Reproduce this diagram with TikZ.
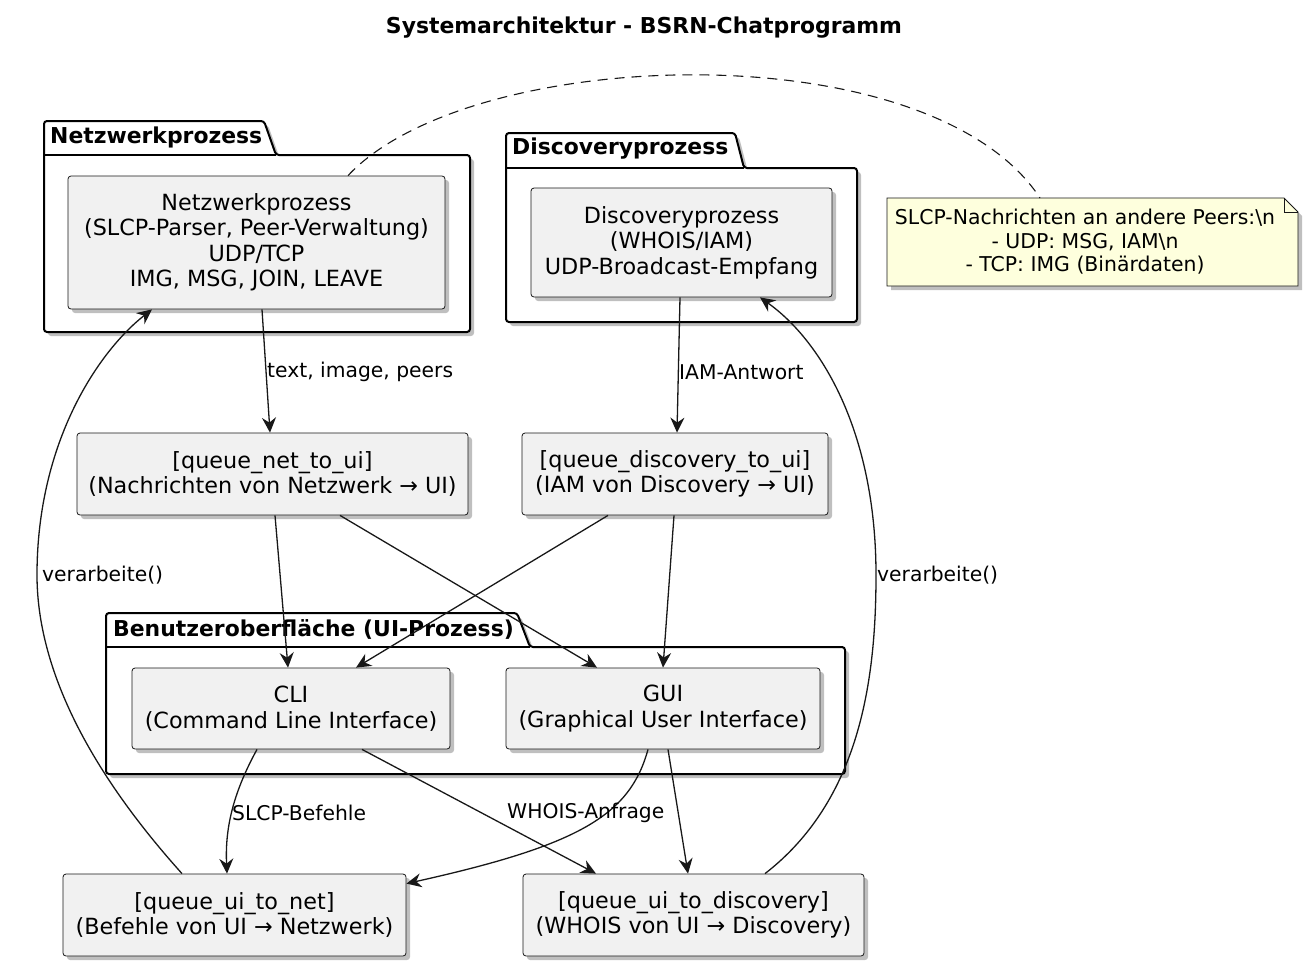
\documentclass[tikz,border=0pt]{standalone}
\usepackage{fontspec}
\setmainfont{DejaVu Sans}
\usetikzlibrary{arrows.meta,shadows}
\definecolor{nodefill}{HTML}{F1F1F1}
\definecolor{linec}{HTML}{181818}
\definecolor{notefill}{HTML}{FEFFDD}
\tikzset{
  shd/.style={drop shadow={shadow xshift=4pt,shadow yshift=-4pt,opacity=0.25,fill=black}},
  box/.style={draw=linec,line width=0.8pt,fill=nodefill,rounded corners=3pt,shd,align=center,inner sep=0pt,
    font=\fontsize{22.3}{25.5}\selectfont},
  pkg/.style={draw=black,line width=2pt,fill=white,rounded corners=3pt,shd},
  pkglabel/.style={anchor=west,inner sep=0pt,font=\bfseries\fontsize{21.9}{25}\selectfont},
  edge/.style={draw=linec,line width=1.3pt,-{Stealth[length=15pt,width=14pt,inset=5pt]}},
  elabel/.style={inner sep=0pt,anchor=west,font=\fontsize{20.3}{24}\selectfont},
}
\begin{document}
\begin{tikzpicture}[x=1pt,y=-1pt]
\useasboundingbox (0,0) rectangle (1308,972);
% title
\node[font=\bfseries\fontsize{21.9}{25}\selectfont] (title) at (644,28) {Systemarchitektur - BSRN-Chatprogramm};
% packages
\draw[pkg] (44,155) -- (44,121) -- (264,121) -- (276,155) -- (470,155) -- (470,332) -- (44,332) -- cycle;
\draw[line width=2pt] (44,155) -- (276,155);
\node[pkglabel] (pnet) at (50,137) {Netzwerkprozess};
\draw[pkg] (506,168) -- (506,133) -- (735,133) -- (744,168) -- (857,168) -- (857,322) -- (506,322) -- cycle;
\draw[line width=2pt] (506,168) -- (744,168);
\node[pkglabel] (pdisc) at (512,149) {Discoveryprozess};
\draw[pkg] (106,647) -- (106,613) -- (517,613) -- (530,647) -- (845,647) -- (845,774) -- (106,774) -- cycle;
\draw[line width=2pt] (106,647) -- (530,647);
\node[pkglabel] (pui) at (113,629) {Benutzeroberfläche (UI-Prozess)};
% nodes
\node[box,minimum width=377pt,minimum height=133pt] (net) at (256.5,242.5)
  {Netzwerkprozess\\(SLCP-Parser, Peer-Verwaltung)\\UDP/TCP\\IMG, MSG, JOIN, LEAVE};
\node[box,minimum width=301pt,minimum height=109pt] (disc) at (681.5,242.5)
  {Discoveryprozess\\(WHOIS/IAM)\\UDP-Broadcast-Empfang};
\node[box,minimum width=391pt,minimum height=82pt] (qnet) at (272.5,474)
  {[queue\_net\_to\_ui]\\(Nachrichten von Netzwerk → UI)};
\node[box,minimum width=306pt,minimum height=82pt] (qdisc) at (675,474)
  {[queue\_discovery\_to\_ui]\\(IAM von Discovery → UI)};
\node[box,minimum width=318pt,minimum height=81pt] (cli) at (291,708.5)
  {CLI\\(Command Line Interface)};
\node[box,minimum width=314pt,minimum height=81pt] (gui) at (663,708.5)
  {GUI\\(Graphical User Interface)};
\node[box,minimum width=343pt,minimum height=82pt] (quinet) at (234.5,915)
  {[queue\_ui\_to\_net]\\(Befehle von UI → Netzwerk)};
\node[box,minimum width=341pt,minimum height=82pt] (quidisc) at (693.5,915)
  {[queue\_ui\_to\_discovery]\\(WHOIS von UI → Discovery)};
% note
\coordinate (nNW) at (887,198);
\coordinate (nSE) at (1298,286);
\draw[draw=linec,line width=0.8pt,fill=notefill,shd] (887,198) -- (1284,198) -- (1298,212) -- (1298,286) -- (887,286) -- cycle;
\draw[draw=linec,line width=0.8pt] (1284,198) -- (1284,212) -- (1298,212);
\node[align=center,inner sep=0pt,font=\fontsize{20.4}{23.5}\selectfont] (note) at (1085,242)
  {SLCP-Nachrichten an andere Peers:\textbackslash n\\- UDP: MSG, IAM\textbackslash n\\- TCP: IMG (Binärdaten)};
% note connector
\draw[draw=linec,line width=1.1pt,dash pattern=on 10pt off 7pt] ([xshift=91.5pt]net.north) .. controls (470,45) and (930,30) .. (1040,198);
% edges
\draw[edge] ([xshift=5.5pt]net.south) -- ([xshift=-2.5pt]qnet.north);
\draw[edge] ([xshift=-1.5pt]disc.south) -- ([xshift=2pt]qdisc.north);
\draw[edge] ([xshift=2.5pt]qnet.south) -- ([xshift=-3pt]cli.north);
\draw[edge] ([xshift=67.5pt]qnet.south) -- ([xshift=-66pt]gui.north);
\draw[edge] ([xshift=-67pt]qdisc.south) -- ([xshift=65pt]cli.north);
\draw[edge] ([xshift=-1pt]qdisc.south) -- (gui.north);
\draw[edge] ([xshift=-34pt]cli.south) .. controls (232,795) and (225,830) .. ([xshift=-7.5pt]quinet.north);
\draw[edge] ([xshift=71pt]cli.south) -- ([xshift=-97.5pt]quidisc.north);
\draw[edge] ([xshift=-15pt]gui.south) .. controls (630,815) and (580,845) .. ([yshift=-10pt]quinet.north east);
\draw[edge] ([xshift=5pt]gui.south) -- ([xshift=-5.5pt]quidisc.north);
\draw[edge] ([xshift=-52.5pt]quinet.north) .. controls (80,760) and (37,660) .. (37,575) .. controls (37,440) and (100,350) .. ([xshift=-104.5pt]net.south);
\draw[edge] ([xshift=71.5pt]quidisc.north) .. controls (860,800) and (876,680) .. (876,575) .. controls (876,430) and (820,340) .. ([xshift=78.5pt]disc.south);
% edge labels
\node[elabel] (l1) at (267,372) {text, image, peers};
\node[elabel] (l2) at (679,372) {IAM-Antwort};
\node[elabel] (l3) at (232,813) {SLCP-Befehle};
\node[elabel] (l4) at (507,813) {WHOIS-Anfrage};
\node[elabel] (l5) at (42,575) {verarbeite()};
\node[elabel] (l6) at (877,575) {verarbeite()};
\end{tikzpicture}
\end{document}
